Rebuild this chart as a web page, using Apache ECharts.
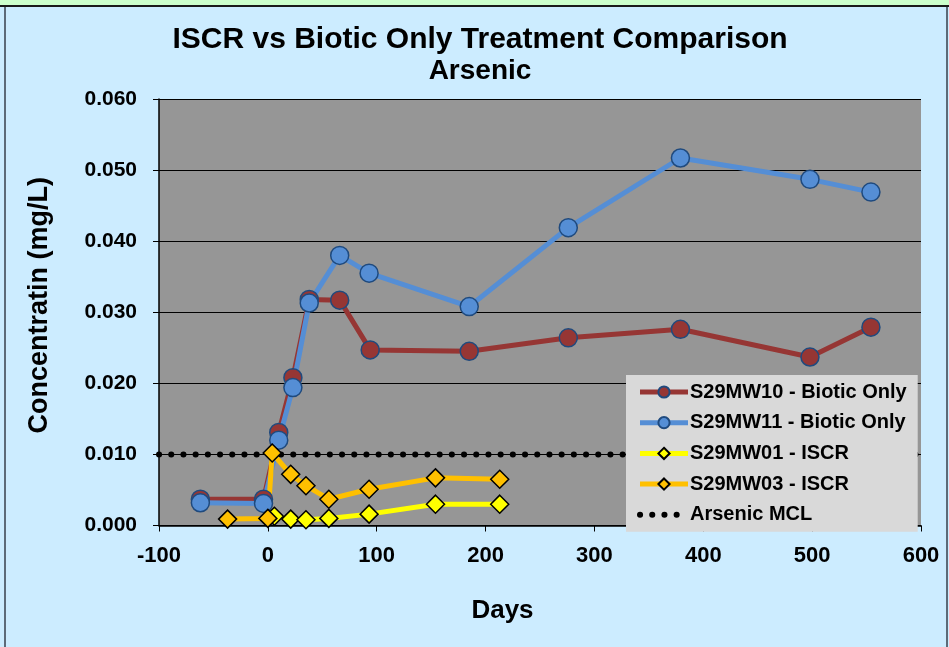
<!DOCTYPE html>
<html>
<head>
<meta charset="utf-8">
<script src="https://cdn.jsdelivr.net/npm/echarts/dist/echarts.min.js"></script>
<style>
  html, body { margin: 0; padding: 0; background: #CCECFF; }
  #echart { width: 949px; height: 647px; }
</style>
</head>
<body>
<div id="echart"></div>
<script>
// sampling days and concentrations (mg/L)
const mw10Days = [-62, -4, 10, 23, 38, 66, 94, 185, 276, 379, 498, 554];
const mw10Vals = [0.0037, 0.0037, 0.0131, 0.0208, 0.0318, 0.0317, 0.0247, 0.0245, 0.0264, 0.0276, 0.0237, 0.0279];

const mw11Days = [-62, -4, 10, 23, 38, 66, 93, 185, 276, 379, 498, 554];
const mw11Vals = [0.0032, 0.0031, 0.0120, 0.0194, 0.0313, 0.0380, 0.0355, 0.0308, 0.0419, 0.0517, 0.0487, 0.0469];

const mw01Days = [6, 21, 35, 56, 93, 154, 213];
const mw01Vals = [0.0013, 0.0009, 0.0008, 0.0010, 0.0016, 0.0030, 0.0030];

const mw03Days = [-37, 0, 4, 21, 35, 56, 93, 154, 213];
const mw03Vals = [0.0009, 0.0010, 0.0102, 0.0072, 0.0056, 0.0037, 0.0051, 0.0067, 0.0065];

const mclDays = [-100, 600];
const mclVals = [0.010, 0.010];

const seriesNames = ['S29MW10 - Biotic Only', 'S29MW11 - Biotic Only', 'S29MW01 - ISCR', 'S29MW03 - ISCR', 'Arsenic MCL'];

const font = 'Arial, "Liberation Sans", sans-serif';

function pairs(days, vals) {
  return days.map((d, i) => [d, vals[i]]);
}

const chart = echarts.init(document.getElementById('echart'));

const mclLine = { color: '#000', width: 6, type: [0.1, 12.1], cap: 'round' };

const option = {
  backgroundColor: '#CCECFF',
  animation: false,
  textStyle: { fontFamily: font },
  title: {
    text: 'ISCR vs Biotic Only Treatment Comparison',
    subtext: 'Arsenic',
    left: 475,
    top: 20,
    textAlign: 'center',
    itemGap: 2,
    textStyle: { fontFamily: font, fontSize: 30, fontWeight: 'bold', color: '#000' },
    subtextStyle: { fontFamily: font, fontSize: 28, fontWeight: 'bold', color: '#000' }
  },
  graphic: [
    { type: 'rect', shape: { x: 0, y: 0, width: 949, height: 5 }, style: { fill: '#CCFFCC' }, z: 10 },
    { type: 'rect', shape: { x: 0, y: 5, width: 949, height: 2 }, style: { fill: '#1A1A1A' }, z: 10 },
    { type: 'rect', shape: { x: 4, y: 7, width: 2, height: 640 }, style: { fill: '#5C6A78' }, z: 10 },
    { type: 'rect', shape: { x: 946, y: 7, width: 2, height: 640 }, style: { fill: '#5C6A78' }, z: 10 }
  ],
  legend: {
    orient: 'vertical',
    left: 626,
    top: 375,
    width: 293,
    padding: [7, 11, 7, 11],
    backgroundColor: '#D9D9D9',
    itemWidth: 48,
    itemHeight: 14,
    itemGap: 10.7,
    data: [
      { name: seriesNames[0], lineStyle: { width: 5 } },
      { name: seriesNames[1], lineStyle: { width: 5 } },
      { name: seriesNames[2], lineStyle: { width: 5 } },
      { name: seriesNames[3], lineStyle: { width: 5 } },
      { name: seriesNames[4], lineStyle: mclLine, itemStyle: { opacity: 0 } }
    ],
    textStyle: { fontFamily: font, fontSize: 20, fontWeight: 'bold', color: '#000', lineHeight: 20, padding: [0, 0, 0, -3] }
  },
  grid: {
    left: 159,
    top: 99,
    right: 28,
    bottom: 121.5,
    show: true,
    backgroundColor: '#969696',
    borderWidth: 0
  },
  xAxis: {
    type: 'value',
    min: -100,
    max: 600,
    interval: 100,
    name: 'Days',
    nameLocation: 'middle',
    nameGap: 72,
    nameTextStyle: { fontFamily: font, fontSize: 26, fontWeight: 'bold', color: '#000', padding: [0, 75, 0, 0] },
    axisLine: { lineStyle: { color: '#000', width: 1.5 } },
    axisTick: { length: 6, lineStyle: { color: '#000' } },
    axisLabel: { fontFamily: font, fontSize: 22, fontWeight: 'bold', color: '#000', margin: 19 },
    splitLine: { show: false }
  },
  yAxis: {
    type: 'value',
    min: 0,
    max: 0.06,
    interval: 0.01,
    name: 'Concentratin (mg/L)',
    nameLocation: 'middle',
    nameGap: 106,
    nameTextStyle: { fontFamily: font, fontSize: 27, fontWeight: 'bold', color: '#000', padding: [0, 0, 0, 14] },
    axisLine: { show: true, onZero: false, lineStyle: { color: '#000', width: 1.5 } },
    axisTick: { show: true, length: 6, lineStyle: { color: '#000' } },
    axisLabel: {
      fontFamily: font, fontSize: 21, fontWeight: 'bold', color: '#000', margin: 22,
      formatter: (v) => v.toFixed(3)
    },
    splitLine: { show: true, lineStyle: { color: '#000', width: 1 } }
  },
  series: [
    {
      name: seriesNames[0],
      type: 'line',
      data: pairs(mw10Days, mw10Vals),
      symbol: 'circle',
      symbolSize: 18,
      lineStyle: { color: '#963634', width: 5 },
      itemStyle: { color: '#963634', borderColor: '#1F4A7E', borderWidth: 1.5 }
    },
    {
      name: seriesNames[1],
      type: 'line',
      data: pairs(mw11Days, mw11Vals),
      symbol: 'circle',
      symbolSize: 18,
      lineStyle: { color: '#558ED5', width: 5 },
      itemStyle: { color: '#558ED5', borderColor: '#1F4A7E', borderWidth: 1.5 }
    },
    {
      name: seriesNames[2],
      type: 'line',
      data: pairs(mw01Days, mw01Vals),
      symbol: 'diamond',
      symbolSize: 18,
      lineStyle: { color: '#FFFF00', width: 5 },
      itemStyle: { color: '#FFFF00', borderColor: '#000', borderWidth: 1.5 }
    },
    {
      name: seriesNames[3],
      type: 'line',
      data: pairs(mw03Days, mw03Vals),
      symbol: 'diamond',
      symbolSize: 18,
      lineStyle: { color: '#FFC000', width: 5 },
      itemStyle: { color: '#FFC000', borderColor: '#000', borderWidth: 1.5 }
    },
    {
      name: seriesNames[4],
      type: 'line',
      data: pairs(mclDays, mclVals),
      symbol: 'none',
      lineStyle: mclLine,
      itemStyle: { color: '#000' }
    }
  ]
};

chart.setOption(option);
</script>
</body>
</html>
